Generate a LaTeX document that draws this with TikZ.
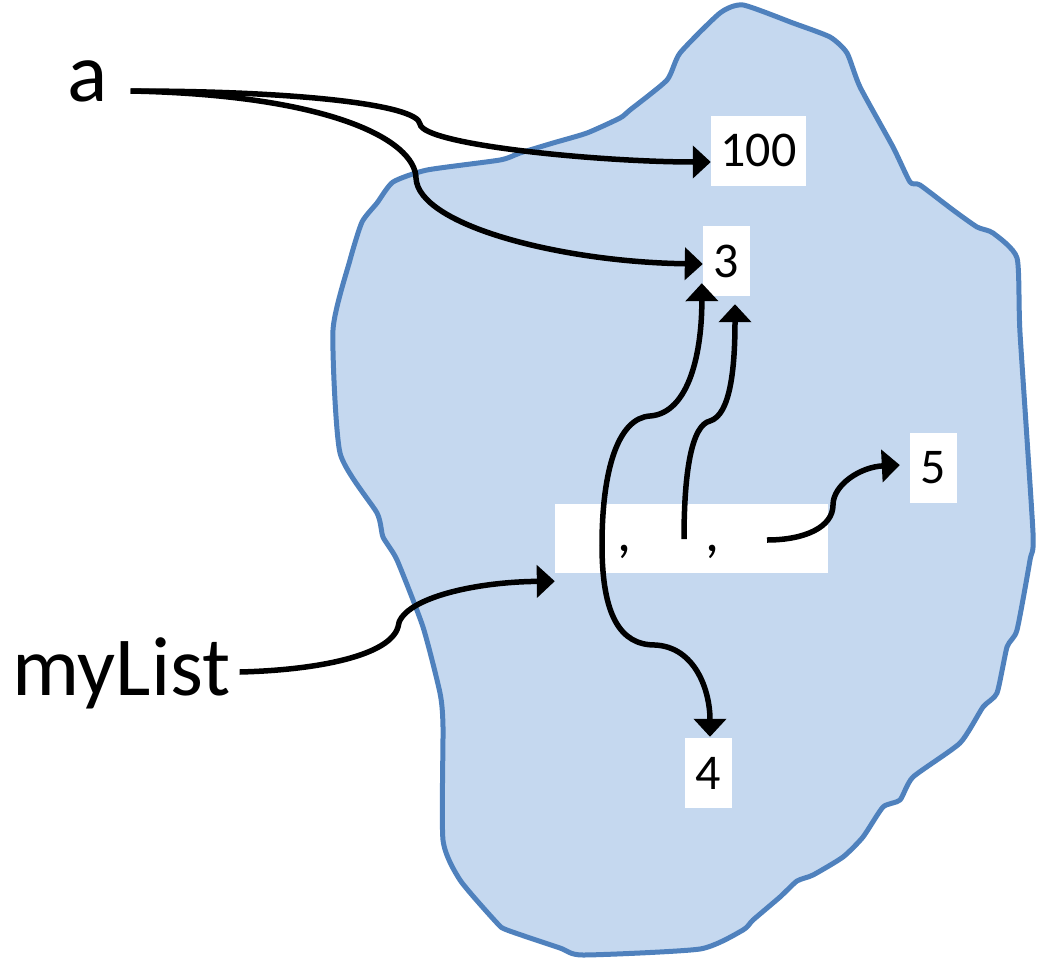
\documentclass[tikz,border=0pt]{standalone}
\usepackage{fontspec}
\setmainfont{Carlito}
\usetikzlibrary{arrows.meta,calc}
\definecolor{blobfill}{HTML}{C5D8EF}
\definecolor{blobline}{HTML}{4F81BD}
\begin{document}
\begin{tikzpicture}[x=1pt,y=-1pt,
  ptr/.style={line width=5.5pt,line cap=butt,-{Triangle[length=18pt,width=32pt]}},
  numcell/.style={fill=white,inner sep=0pt,minimum height=70pt,font=\fontsize{50}{60}\selectfont},
  bigname/.style={inner sep=0pt,font=\fontsize{84}{100}\selectfont},
  sep/.style={inner sep=0pt,anchor=base,font=\fontsize{56}{60}\selectfont},
]
\useasboundingbox (0,0) rectangle (1043,961);

% memory region
\draw[blobline,fill=blobfill,line width=5pt,line join=round]
  plot[smooth cycle,tension=0.35] coordinates {
  (743,5) (793,23) (830,37) (847,53) (860,87) (893,147) (910,182) (920,185)
  (953,210) (977,227) (993,233) (1017,258) (1020,333) (1033,533) (1030,560)
  (1017,630) (1007,647) (997,693) (983,707) (960,743) (913,777) (900,800)
  (883,807) (863,837) (843,857) (813,875) (797,881) (780,897) (753,920)
  (743,930) (700,949) (583,955) (560,948) (507,930) (497,923) (460,880)
  (443,840) (443,727) (440,693) (423,627) (397,560) (383,537) (377,513)
  (340,453) (333,330) (350,260) (362,222) (377,203) (393,182)
  (427,170) (500,160) (520,153) (553,143) (587,133) (620,118) (630,110)
  (667,80) (680,53) (720,13)};

% objects
\node[numcell,minimum width=95pt] (n100) at (758.5,150.5) {100};
\node[numcell,minimum width=47pt] (n3) at (726.5,261) {3};
\node[numcell,minimum width=47pt] (n5) at (933.5,468) {5};
\node[numcell,minimum width=47pt] (n4) at (708.5,773) {4};
\node[numcell,minimum width=273pt,minimum height=69pt] (lst) at (691.5,538.5) {};
\node[sep] (c1) at (624,551) {,};
\node[sep] (c2) at (712,551) {,};

% variable names
\node[bigname,anchor=base west] (a) at (67,101) {a};
\node[bigname,anchor=base west] (ml) at (12,695) {myList};

% list slots
\coordinate (e1) at (602,545);
\coordinate (e2) at (684,539);
\coordinate (e3) at (767,540);

% references
\draw[ptr] ($(a.base east)+(23,-10)$) .. controls (300,91) and (418,105) .. (420,124)
  .. controls (423,145) and (600,162) .. ($(n100.west)+(0,11.5)$);
\draw[ptr] ($(a.base east)+(23,-10)$) .. controls (330,95) and (415,140) .. (416,178)
  .. controls (418,225) and (560,262) .. ($(n3.west)+(0,3)$);
\draw[ptr] ($(ml.base east)+(9,-23)$) .. controls (320,670) and (390,655) .. (398,627)
  .. controls (400,600) and (470,582) .. ($(lst.south west)+(0,8)$);
\draw[ptr] (e1) .. controls (602,470) and (618,418) .. (650,416)
  .. controls (690,413) and (702,350) .. ($(n3.south west)+(-1,-13)$);
\draw[ptr] (e1) .. controls (602,615) and (620,645) .. (655,645)
  .. controls (695,647) and (710,690) .. ($(n4.north)+(1.5,-1)$);
\draw[ptr] (e2) .. controls (684,470) and (692,425) .. (710,421)
  .. controls (730,415) and (735,370) .. ($(n3.south)+(8.5,8)$);
\draw[ptr] (e3) .. controls (805,540) and (833,527) .. (833,505)
  .. controls (833,485) and (860,467) .. ($(n5.west)+(-10,-3)$);
\end{tikzpicture}
\end{document}
